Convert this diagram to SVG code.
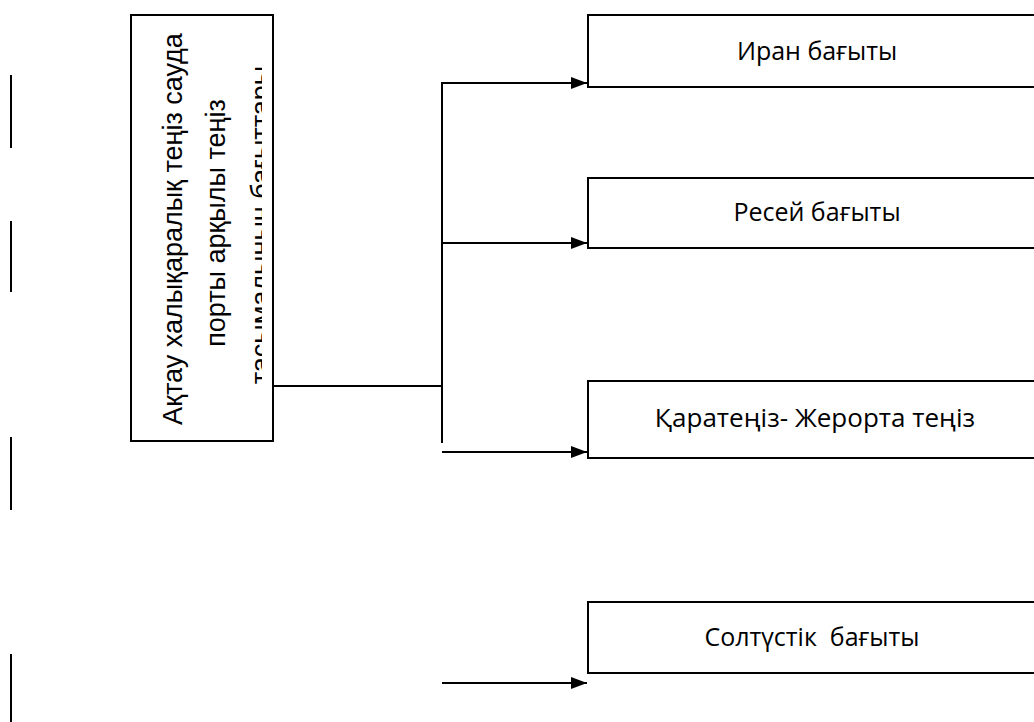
<svg xmlns="http://www.w3.org/2000/svg" width="1034" height="722" viewBox="0 0 1034 722">
<style>
.box{fill:#fff;stroke:#000;stroke-width:2}
.ln{fill:none;stroke:#000;stroke-width:2}
.lbl{font-family:"Open Sans","Liberation Sans",sans-serif;font-size:25px;fill:#000;text-anchor:middle;white-space:pre}
.vt{font-family:"Liberation Sans",Arial,sans-serif;font-size:27px;fill:#000;text-anchor:middle}
.mg{stroke:#000;stroke-width:2}
</style>
<defs>
<marker id="ah" markerWidth="16" markerHeight="12" refX="16" refY="6" orient="auto" markerUnits="userSpaceOnUse">
<path d="M0,0 L16,6 L0,12 Z" fill="#000"/>
</marker>
<clipPath id="clipL"><rect x="131" y="15" width="131" height="426"/></clipPath>
</defs>
<g id="margin">
<line class="mg" x1="11" y1="75" x2="11" y2="148"/>
<line class="mg" x1="11" y1="221" x2="11" y2="292"/>
<line class="mg" x1="11" y1="437" x2="11" y2="510"/>
<line class="mg" x1="11" y1="654" x2="11" y2="722"/>
</g>
<g id="connectors">
<polyline class="ln" points="273,386 442,386"/>
<polyline class="ln" points="442,443 442,83 587,83" marker-end="url(#ah)"/>
<line class="ln" x1="442" y1="243" x2="587" y2="243" marker-end="url(#ah)"/>
<line class="ln" x1="442" y1="452" x2="587" y2="452" marker-end="url(#ah)"/>
<line class="ln" x1="442" y1="683" x2="587" y2="683" marker-end="url(#ah)"/>
</g>
<g id="main">
<rect class="box" x="131" y="15" width="142" height="426"/>
<text class="vt" transform="translate(182,229) rotate(-90)">Ақтау халықаралық теңіз сауда</text>
<text class="vt" transform="translate(225,223) rotate(-90)">порты арқылы теңіз</text>
<g clip-path="url(#clipL)">
<text class="vt" transform="translate(270,225) rotate(-90)">тасымалының бағыттары</text>
</g>
</g>
<g id="iran">
<rect class="box" x="588" y="15" width="460" height="72"/>
<text class="lbl" x="817" y="60">Иран бағыты</text>
</g>
<g id="russia">
<rect class="box" x="588" y="178" width="460" height="70"/>
<text class="lbl" x="817" y="221">Ресей бағыты</text>
</g>
<g id="blacksea">
<rect class="box" x="588" y="381" width="460" height="77"/>
<text class="lbl" x="815" y="427" style="font-size:26px">Қаратеңіз- Жерорта теңіз</text>
</g>
<g id="north">
<rect class="box" x="588" y="602" width="460" height="71"/>
<text class="lbl" x="812" y="646" xml:space="preserve">Солтүстік  бағыты</text>
</g>
</svg>
